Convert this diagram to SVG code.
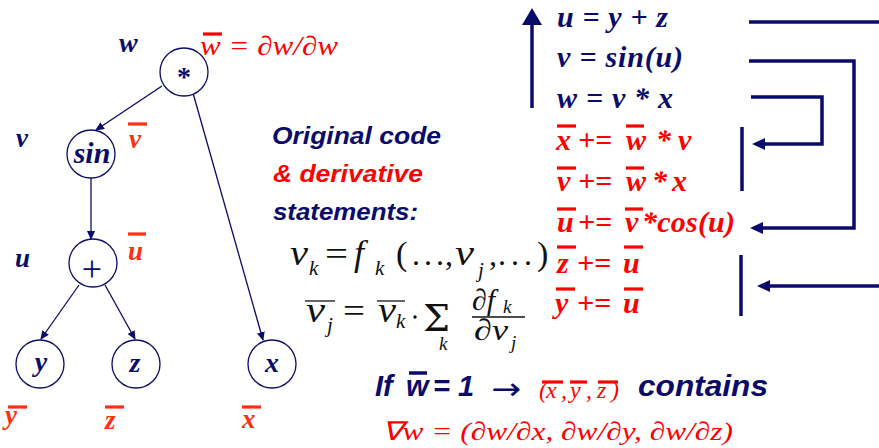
<svg xmlns="http://www.w3.org/2000/svg" width="879" height="448" viewBox="0 0 879 448">
<style>
.nv{fill:#0b0b6b}
.rd{fill:#ff0000}
.or{fill:#ff3010}
.bk{fill:#111}
.sb{font-family:"Liberation Serif",serif;font-weight:bold;font-style:italic}
.si{font-family:"Liberation Serif",serif;font-style:italic}
.sr{font-family:"Liberation Serif",serif}
.ss{font-family:"Liberation Sans",Arial,sans-serif;font-weight:bold;font-style:italic}
.node{fill:#fff;stroke:#0b0b6b;stroke-width:1.3}
.edge{fill:none;stroke:#0b0b6b;stroke-width:1.3;marker-end:url(#ah)}
.flow{fill:none;stroke:#0b0b6b;stroke-width:3.5}
.ob{stroke:#ff3010;stroke-width:3.2}
.obr{stroke:#ff0000;stroke-width:3.2}
.obk{stroke:#111;stroke-width:1.3}
</style>
<defs>
<marker id="ah" markerUnits="userSpaceOnUse" markerWidth="9" markerHeight="8" refX="8" refY="4" orient="auto"><path d="M0,0 L9,4 L0,8 z" fill="#0b0b6b"/></marker>
<marker id="big" markerUnits="userSpaceOnUse" markerWidth="13" markerHeight="12" refX="1" refY="6" orient="auto"><path d="M0,0 L13,6 L0,12 z" fill="#0b0b6b"/></marker>
<marker id="up" markerUnits="userSpaceOnUse" markerWidth="17" markerHeight="20" refX="1" refY="10" orient="auto"><path d="M0,0 L17,10 L0,20 z" fill="#0b0b6b"/></marker>
</defs>

<g id="connectors">
<path class="edge" d="M162,86 L96,130"/>
<path class="edge" d="M193,93 L263,340"/>
<path class="edge" d="M91,178 L91,239"/>
<path class="edge" d="M79,285 L41,339"/>
<path class="edge" d="M105,285 L135,339"/>
<path class="flow" d="M532,108 V24" marker-end="url(#up)"/>
<path class="flow" d="M749,22 H879"/>
<path class="flow" d="M749,61 H854 V228 H762" marker-end="url(#big)"/>
<path class="flow" d="M751,97 H822 V144 H764" marker-end="url(#big)"/>
<path class="flow" d="M879,286 H769" marker-end="url(#big)"/>
<path class="flow" d="M742,127 V191"/>
<path class="flow" d="M741,255 V316"/>
</g>

<g id="node-mul"><circle class="node" cx="184" cy="72" r="24"/><text class="sr nv" x="184" y="86" font-size="28" font-weight="bold" text-anchor="middle">*</text></g>
<g id="node-sin"><circle class="node" cx="91" cy="154" r="24"/><text class="sb nv" x="92" y="163" font-size="30" text-anchor="middle">sin</text></g>
<g id="node-plus"><circle class="node" cx="93" cy="263" r="24"/><text class="sr nv" x="92" y="281" font-size="36" text-anchor="middle">+</text></g>
<g id="node-y"><circle class="node" cx="40" cy="364" r="24"/><text class="sb nv" x="41" y="371" font-size="28" text-anchor="middle">y</text></g>
<g id="node-z"><circle class="node" cx="136" cy="364" r="24"/><text class="sb nv" x="135" y="372" font-size="28" text-anchor="middle">z</text></g>
<g id="node-x"><circle class="node" cx="272" cy="364" r="24"/><text class="sb nv" x="272" y="372" font-size="28" text-anchor="middle">x</text></g>

<g id="tree-labels">
<text class="sb nv" x="119" y="52" font-size="28">w</text>
<text class="sb nv" x="16" y="147" font-size="27">v</text>
<text class="sb nv" x="15" y="267" font-size="27">u</text>
<text class="sb or" x="129" y="148" font-size="27">v</text><line class="ob" x1="128" y1="124" x2="147" y2="124"/>
<text class="sb or" x="128" y="260" font-size="27">u</text><line class="ob" x1="128" y1="234" x2="146" y2="234"/>
<text class="sb or" x="5" y="424" font-size="27">y</text><line class="ob" x1="8" y1="407" x2="27" y2="407"/>
<text class="sb or" x="105" y="429" font-size="27">z</text><line class="ob" x1="105" y1="407" x2="124" y2="407"/>
<text class="sb or" x="242" y="428" font-size="27">x</text><line class="ob" x1="242" y1="407" x2="261" y2="407"/>
<text class="si rd" x="200" y="55" font-size="27" textLength="138" lengthAdjust="spacingAndGlyphs">w = ∂w/∂w</text><line class="obr" x1="203" y1="34" x2="222" y2="34"/>
</g>

<g id="caption">
<text class="ss nv" x="272" y="144" font-size="24" textLength="169" lengthAdjust="spacingAndGlyphs">Original code</text>
<text class="ss rd" x="273" y="182" font-size="24" textLength="150" lengthAdjust="spacingAndGlyphs">&amp; derivative</text>
<text class="ss nv" x="273" y="220" font-size="24" textLength="145" lengthAdjust="spacingAndGlyphs">statements:</text>
</g>

<g id="formulas">
<text class="si bk" x="290" y="265" font-size="36" textLength="18" lengthAdjust="spacingAndGlyphs">v</text>
<text class="si bk" x="309" y="275" font-size="21">k</text>
<text class="sr bk" x="325" y="265" font-size="34" textLength="23" lengthAdjust="spacingAndGlyphs">=</text>
<text class="si bk" x="354" y="265" font-size="36">f</text>
<text class="si bk" x="375" y="275" font-size="21">k</text>
<text class="sr bk" x="396" y="265" font-size="34">(</text>
<text class="sr bk" x="412" y="265" font-size="32" textLength="32" lengthAdjust="spacing">...</text>
<text class="sr bk" x="445" y="265" font-size="32">,</text>
<text class="si bk" x="455" y="265" font-size="36" textLength="19" lengthAdjust="spacingAndGlyphs">v</text>
<text class="si bk" x="478" y="277" font-size="21">j</text>
<text class="sr bk" x="489" y="265" font-size="32">,</text>
<text class="sr bk" x="498" y="265" font-size="32" textLength="34" lengthAdjust="spacing">...</text>
<text class="sr bk" x="537" y="265" font-size="34">)</text>

<line class="obk" x1="305" y1="301" x2="335" y2="301"/>
<text class="si bk" x="306" y="322" font-size="36" textLength="19" lengthAdjust="spacingAndGlyphs">v</text>
<text class="si bk" x="327" y="332" font-size="21">j</text>
<text class="sr bk" x="343" y="322" font-size="34" textLength="22" lengthAdjust="spacingAndGlyphs">=</text>
<line class="obk" x1="377" y1="301" x2="405" y2="301"/>
<text class="si bk" x="378" y="322" font-size="36" textLength="18" lengthAdjust="spacingAndGlyphs">v</text>
<text class="si bk" x="396" y="328" font-size="21">k</text>
<circle cx="415" cy="317" r="1.7" fill="#111"/>
<text x="423" y="331" font-size="38" font-family="'DejaVu Serif',serif" class="bk" textLength="27" lengthAdjust="spacingAndGlyphs">Σ</text>
<text class="si bk" x="439" y="350" font-size="19">k</text>
<text class="si bk" x="472" y="310" font-size="30">∂f</text>
<text class="si bk" x="503" y="313" font-size="19">k</text>
<line class="obk" x1="472" y1="317" x2="525" y2="317"/>
<text class="si bk" x="474" y="340" font-size="30" textLength="34" lengthAdjust="spacingAndGlyphs">∂v</text>
<text class="si bk" x="511" y="349" font-size="19">j</text>
</g>

<g id="code" font-size="30">
<text class="sb nv" x="557" y="27" xml:space="preserve" textLength="111" lengthAdjust="spacing">u = y + z</text>
<text class="sb nv" x="557" y="67" xml:space="preserve" textLength="126" lengthAdjust="spacing">v = sin(u)</text>
<text class="sb nv" x="557" y="108" xml:space="preserve" textLength="116" lengthAdjust="spacing">w = v * x</text>

<text class="sb rd" x="556" y="150">x</text><text class="sb rd" x="578" y="150">+=</text><text class="sb rd" x="626" y="150">w</text><text class="sb rd" x="656" y="150">*</text><text class="sb rd" x="678" y="150">v</text>
<line class="obr" x1="557" y1="126" x2="576" y2="126"/><line class="obr" x1="626" y1="126" x2="644" y2="126"/>
<text class="sb rd" x="557" y="191">v</text><text class="sb rd" x="578" y="191">+=</text><text class="sb rd" x="626" y="191">w</text><text class="sb rd" x="652" y="191">*</text><text class="sb rd" x="672" y="191">x</text>
<line class="obr" x1="557" y1="168" x2="576" y2="168"/><line class="obr" x1="626" y1="168" x2="644" y2="168"/>
<text class="sb rd" x="557" y="232">u</text><text class="sb rd" x="578" y="232">+=</text><text class="sb rd" x="625" y="232">v</text><text class="sb rd" x="642" y="232" textLength="93" lengthAdjust="spacing">*cos(u)</text>
<line class="obr" x1="557" y1="209" x2="576" y2="209"/><line class="obr" x1="625" y1="209" x2="643" y2="209"/>
<text class="sb rd" x="557" y="273">z</text><text class="sb rd" x="577" y="273">+=</text><text class="sb rd" x="623" y="273">u</text>
<line class="obr" x1="557" y1="247" x2="576" y2="247"/><line class="obr" x1="624" y1="247" x2="643" y2="247"/>
<text class="sb rd" x="555" y="313">y</text><text class="sb rd" x="577" y="313">+=</text><text class="sb rd" x="623" y="313">u</text>
<line class="obr" x1="556" y1="289" x2="575" y2="289"/><line class="obr" x1="624" y1="289" x2="643" y2="289"/>
</g>

<g id="conclusion">
<text class="ss nv" x="375" y="396" font-size="29">If</text>
<text class="ss nv" x="406" y="396" font-size="29">w</text><line x1="409" y1="373" x2="427" y2="373" stroke="#0b0b6b" stroke-width="3.5"/>
<text class="ss nv" x="433" y="396" font-size="29">=</text>
<text class="ss nv" x="458" y="396" font-size="29">1</text>
<text x="491" y="399" font-size="30" font-family="'DejaVu Sans',sans-serif" class="nv" textLength="30" lengthAdjust="spacingAndGlyphs">→</text>
<g class="si rd" font-size="24">
<text x="539" y="398">(</text><text x="546" y="398">x</text><text x="561" y="398">,</text>
<text x="570" y="398">y</text><text x="586" y="398">,</text>
<text x="597" y="398">z</text><text x="611" y="398">)</text>
</g>
<line class="obr" x1="542" y1="382" x2="563" y2="382" stroke-width="2.5"/>
<line class="obr" x1="570" y1="382" x2="587" y2="382" stroke-width="2.5"/>
<line class="obr" x1="598" y1="382" x2="618" y2="382" stroke-width="2.5"/>
<text class="ss nv" x="638" y="396" font-size="29" textLength="130" lengthAdjust="spacingAndGlyphs">contains</text>
<text class="si rd" x="382" y="440" font-size="26" textLength="351" lengthAdjust="spacingAndGlyphs">∇w = (∂w/∂x, ∂w/∂y, ∂w/∂z)</text>
</g>
</svg>
